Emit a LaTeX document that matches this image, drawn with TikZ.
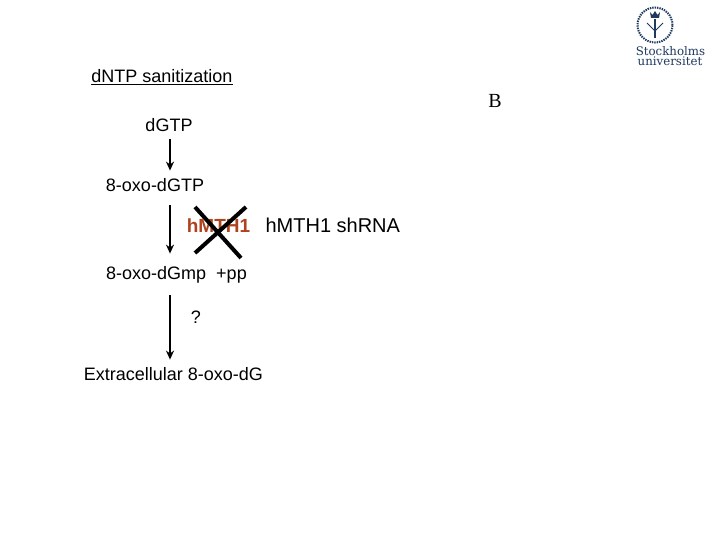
\documentclass[tikz,border=0pt]{standalone}
\usepackage{xcolor}
\usepackage{fontspec}
\setmainfont{Liberation Sans}
\newfontfamily\logofont{DejaVu Serif}
\newfontfamily\letterfont{Liberation Serif}
\usetikzlibrary{
  arrows.meta,
  positioning
}
\definecolor{suBlue}{HTML}{1F3A5F}
\definecolor{suRed}{HTML}{B0431F}
\tikzset{
  chem/.style={font=\fontsize{18}{20}\selectfont, inner sep=1pt, text height=13pt, text depth=3.4pt},
  enzyme/.style={chem, font=\fontsize{19}{20}\selectfont\bfseries, text=suRed},
  flow/.style={-{Stealth[length=9pt,width=8pt]}, line width=1.5pt, black},
  knock/.style={line width=4pt, black},
  logotext/.style={font=\fontsize{11.8}{12}\logofont, text=suBlue, inner sep=0pt},
  seal/.style={draw=suBlue, line width=2pt, dash pattern=on 1.4pt off 1pt}
}
\begin{document}
\begin{tikzpicture}[x=1pt, y=-1pt]
  \useasboundingbox[fill=white] (0,0) rectangle (720,540);
  % labels
  \node[chem] (title) at (162,77.5) {\underline{dNTP sanitization}};
  \node[font=\fontsize{20}{20}\letterfont, inner sep=0pt] (letter) at (495,101) {B};
  \node[chem] (dgtp) at (169,127) {dGTP};
  \node[chem] (oxogtp) at (155,187) {8-oxo-dGTP};
  \node[enzyme] (mth) at (218.5,228) {hMTH1};
  \node[chem, font=\fontsize{20}{20}\selectfont, right=13pt of mth] (shrna) {hMTH1 shRNA};
  \node[chem] (oxogmp) at (176.5,275) {8-oxo-dGmp\ \ +pp};
  \node[chem] (quest) at (196,319) {?};
  \node[chem] (extra) at (173.5,376) {Extracellular 8-oxo-dG};
  % arrows
  \draw[flow, shorten <=3pt, shorten >=7pt] (dgtp.south -| 170,0) -- (oxogtp.north -| 170,0);
  \draw[flow, shorten <=9pt, shorten >=12pt] (oxogtp.south -| 170,0) -- (oxogmp.north -| 170,0);
  \draw[flow, shorten <=11pt, shorten >=7pt] (oxogmp.south -| 170,0) -- (extra.north -| 170,0);
  % cross over the enzyme
  \coordinate (xa) at (195,207);
  \coordinate (xb) at (241,258);
  \coordinate (xc) at (246,207);
  \coordinate (xd) at (195,253);
  \draw[knock] (xa) -- (xb);
  \draw[knock] (xc) -- (xd);
  % logo
  \node[circle, seal, minimum size=35pt, inner sep=0pt] (sealring) at (655,25) {};
  \fill[suBlue] (650,12) -- (652.5,15) -- (655,11) -- (657.5,15) -- (660,12) -- (659,18) -- (651,18) -- cycle;
  \draw[suBlue, line width=1.5pt] (sealring.center) ++(0,-6) -- ++(0,19);
  \draw[suBlue, line width=1pt] (647,23) -- (655,31) -- (663,23);
  \node[logotext, anchor=base] (logoa) at (670.5,55.5) {Stockholms};
  \node[logotext, anchor=base] (logob) at (670,66) {universitet};
\end{tikzpicture}
\end{document}
